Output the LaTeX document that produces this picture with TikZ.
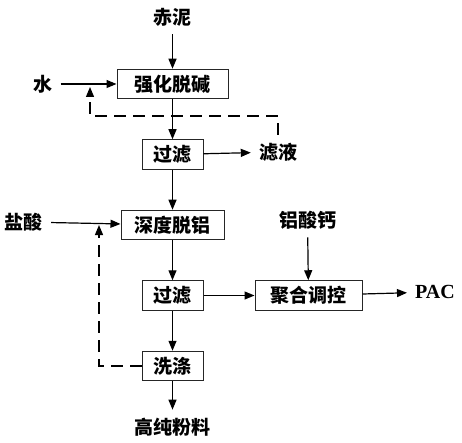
\documentclass[tikz,border=0pt]{standalone}
\usepackage{fontspec}
\setmainfont{Liberation Serif}
\newfontfamily\cjkfont{Noto Sans CJK SC}
\usetikzlibrary{arrows.meta,positioning}
\tikzset{procbox/.style={
    % The shape:
    rectangle,
    % The size:
    minimum height=29.5pt,
    % The border:
    line width=1pt,
    draw=black!85,
    % Font
    font=\cjkfont\bfseries\fontsize{19}{22}\selectfont
    },
    material/.style={
    inner sep=8pt,
    font=\cjkfont\bfseries\fontsize{19}{22}\selectfont
    },
    flow/.style={
    line width=1.2pt,
    -{Triangle[length=10pt,width=8pt]},
    },
    recycle/.style={
    flow,
    dash pattern=on 12pt off 7pt,
    },
}

\begin{document}
\begin{tikzpicture}[x=1pt,y=-1pt,node distance = 40pt and 51pt]
    \useasboundingbox (0,0) rectangle (462,443);

    \node (tuojian) [procbox,minimum width=111pt] at (172.5,84) {强化脱碱};
    \node (guolv)   [procbox,minimum width=61pt,below=of tuojian]  {过滤};
    \node (shendu)  [procbox,minimum width=103pt,below=of guolv]  {深度脱铝};
    \node (guolvb)  [procbox,minimum width=61pt,below=of shendu]   {过滤};
    \node (xidi)    [procbox,minimum width=61pt,below=of guolvb]   {洗涤};
    \node (juhe)    [procbox,minimum width=107pt,right=of guolvb]  {聚合调控};

    \node (chini)   [material] at (172.5,17)  {赤泥};
    \node (shui)    [material] at (43,84)     {水};
    \node (lvye)    [material] at (278,152)   {滤液};
    \node (yansuan) [material] at (24,222)    {盐酸};
    \node (gaigl)   [material] at (307.5,220) {铝酸钙};
    \node (gaochun) [material] at (172.5,427) {高纯粉料};
    \node (pac)     [material,font=\bfseries\fontsize{20}{22}\selectfont] at (435,292) {PAC};

    \coordinate (backa) at (90,116);
    \coordinate (backb) at (90,87);
    \coordinate (backc) at (99,225);

    \draw[flow] (chini) -- (tuojian);
    \draw[flow] (shui) -- (tuojian);
    \draw[flow] (tuojian) -- (guolv);
    \draw[flow] (guolv) -- (lvye);
    \draw[flow] (guolv) -- (shendu);
    \draw[flow] (yansuan) -- (shendu);
    \draw[flow] (shendu) -- (guolvb);
    \draw[flow] (guolvb) -- (xidi);
    \draw[flow] (xidi) -- (gaochun);
    \draw[flow] (guolvb) -- (juhe);
    \draw[flow] (gaigl) -- (juhe);
    \draw[flow] (juhe) -- (pac);

    \draw[recycle] (lvye.north) |- (backa) -- (backb);
    \draw[recycle] (xidi.west) -| (backc);
  \end{tikzpicture}
\end{document}
